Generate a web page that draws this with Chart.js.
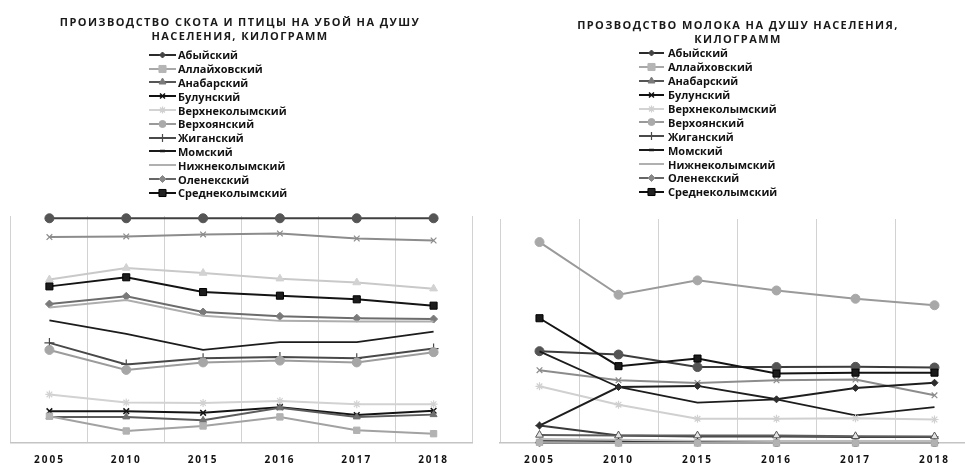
<!DOCTYPE html>
<html><head><meta charset="utf-8">
<script src="https://cdn.jsdelivr.net/npm/chart.js@4.4.1/dist/chart.umd.min.js"></script>
<style>
html,body{margin:0;padding:0;background:#fff;overflow:hidden;width:965px;height:463px;}
#wrap{position:relative;width:965px;height:463px;overflow:hidden;}
canvas.cv{position:absolute;top:0;}
.title{position:absolute;font-family:'Open Sans',sans-serif;font-weight:700;font-size:11px;letter-spacing:1.4px;text-align:center;color:#1a1a1a;line-height:14px;white-space:nowrap;}
.legend{position:absolute;font-family:'Open Sans',sans-serif;font-weight:700;font-size:11px;color:#111;}
.li{display:flex;align-items:center;white-space:nowrap;}
.li canvas{display:block;}
</style>
</head><body>
<div id="wrap">
  <canvas id="c1" class="cv" width="480" height="463" style="left:0"></canvas>
  <canvas id="c2" class="cv" width="500" height="463" style="left:480px"></canvas>
  <div class="title" id="t1" style="left:0;width:480px;top:15px;"></div>
  <div class="title" id="t2" style="left:488px;width:500px;top:18px;"></div>
  <div class="legend" id="lg1" style="left:149px;top:48px;"></div>
  <div class="legend" id="lg2" style="left:639px;top:46px;"></div>
</div>
<script>
// ---------- DATA ----------
const years = ['2005', '2010', '2015', '2016', '2017', '2018'];
const districts = ['Абыйский', 'Аллайховский', 'Анабарский', 'Булунский', 'Верхнеколымский',
  'Верхоянский', 'Жиганский', 'Момский', 'Нижнеколымский', 'Оленекский', 'Среднеколымский',
  'Усть-Янский', 'Эвено-Бытантайский'];
const legendCount = 11;
const titleMeat = ['ПРОИЗВОДСТВО СКОТА И ПТИЦЫ НА УБОЙ НА ДУШУ', 'НАСЕЛЕНИЯ, КИЛОГРАММ'];
const titleMilk = ['ПРОЗВОДСТВО МОЛОКА НА ДУШУ НАСЕЛЕНИЯ,', 'КИЛОГРАММ'];

// meat (left chart)
const meatAbyi      = [72.0, 77.1, 74.9, 72.4, 70.7, 68.0];
const meatAllaikh   = [11.8, 5.3, 7.5, 11.5, 5.6, 4.1];
const meatAnabar    = [11.5, 11.5, 10.0, 15.5, 11.5, 12.5];
const meatBulun     = [14.0, 14.0, 13.3, 15.8, 12.3, 14.2];
const meatVerkhnekol= [21.4, 17.8, 17.6, 18.5, 17.1, 17.1];
const meatVerkhoyan = [41.0, 32.2, 35.5, 36.3, 35.5, 40.0];
const meatZhigan    = [44.1, 34.6, 37.3, 37.9, 37.3, 41.6];
const meatMom       = [54.0, 48.1, 41.0, 44.4, 44.4, 49.1];
const meatNizhnekol = [59.7, 63.0, 56.1, 53.8, 53.5, 53.5];
const meatOlenek    = [61.2, 64.6, 57.7, 55.8, 55.0, 54.6];
const meatSrednekol = [69.0, 73.0, 66.5, 64.9, 63.3, 60.5];
const meatUstYan    = [99.0, 99.0, 99.0, 99.0, 99.0, 99.0];
const meatEveno     = [90.7, 91.0, 91.9, 92.3, 90.1, 89.2];

// milk (right chart)
const milkAbyi      = [7.8, 25.0, 25.5, 19.5, 24.6, 26.9];
const milkAllaikh   = [0.3, 0.0, 0.0, 0.0, 0.0, 0.0];
const milkAnabar    = [3.6, 3.3, 3.3, 3.3, 3.0, 2.9];
const milkBulun     = [0.2, 0.2, 0.2, 0.0, 0.0, 0.0];
const milkVerkhnekol= [25.3, 17.1, 10.8, 10.8, 11.1, 10.5];
const milkVerkhoyan = [89.7, 66.2, 72.6, 68.1, 64.4, 61.5];
const milkZhigan    = [7.8, 3.3, 2.9, 2.9, 2.7, 2.7];
const milkMom       = [40.9, 25.0, 18.0, 19.5, 12.3, 16.0];
const milkNizhnekol = [1.8, 1.5, 0.9, 0.9, 0.9, 0.9];
const milkOlenek    = [1.1, 0.9, 0.9, 0.2, 0.2, 0.2];
const milkSrednekol = [55.7, 34.3, 37.7, 31.0, 31.4, 31.4];
const milkUstYan    = [41.0, 39.5, 33.9, 33.9, 34.0, 33.7];
const milkEveno     = [32.5, 28.0, 26.8, 28.0, 28.3, 21.3];

const meatSeries = [meatAbyi, meatAllaikh, meatAnabar, meatBulun, meatVerkhnekol, meatVerkhoyan,
  meatZhigan, meatMom, meatNizhnekol, meatOlenek, meatSrednekol, meatUstYan, meatEveno];
const milkSeries = [milkAbyi, milkAllaikh, milkAnabar, milkBulun, milkVerkhnekol, milkVerkhoyan,
  milkZhigan, milkMom, milkNizhnekol, milkOlenek, milkSrednekol, milkUstYan, milkEveno];

// ---------- STYLES ----------
const leftStyles = [
  {line:'#c9c9c9', pt:'triangle', fill:'#d2d2d2', r:4.5},
  {line:'#a2a2a2', pt:'rect', fill:'#b2b2b2', r:4.5},
  {line:'#5c5c5c', pt:'triangle', fill:'#707070', r:4},
  {line:'#141414', pt:'crossRot', fill:'#141414', r:4, bw:1.5},
  {line:'#d2d2d2', pt:'star', fill:'#d2d2d2', r:4, bw:1.2},
  {line:'#9c9c9c', pt:'circle', fill:'#a6a6a6', r:4.5},
  {line:'#484848', pt:'cross', fill:'#484848', r:5, bw:1.2},
  {line:'#1c1c1c', r:0, w:1.8},
  {line:'#adadad', r:0},
  {line:'#6c6c6c', pt:'rectRot', fill:'#7a7a7a', r:4},
  {line:'#141414', pt:'rect', fill:'#1c1c1c', r:5, border:'#000'},
  {line:'#404040', pt:'circle', fill:'#555555', r:4.5},
  {line:'#8c8c8c', pt:'crossRot', fill:'#8c8c8c', r:4, bw:1.2}
];
const rightStyles = [
  {line:'#1e1e1e', pt:'rectRot', fill:'#2e2e2e', r:3.5},
  {line:'#a2a2a2', pt:'rect', fill:'#b2b2b2', r:4.5},
  {line:'#5c5c5c', pt:'triangle', fill:'#e4e4e4', border:'#555', r:4.5},
  {line:'#222222', pt:'circle', fill:'#ffffff', border:'#222', r:3.5},
  {line:'#d0d0d0', pt:'star', fill:'#d0d0d0', r:4, bw:1.2},
  {line:'#9a9a9a', pt:'circle', fill:'#a8a8a8', r:4.5},
  {line:'#3a3a3a', pt:'cross', fill:'#3a3a3a', r:4, bw:1.2},
  {line:'#1c1c1c', r:0, w:1.8},
  {line:'#bdbdbd', r:0},
  {line:'#4a4a4a', r:0},
  {line:'#141414', pt:'rect', fill:'#1c1c1c', r:5, border:'#000'},
  {line:'#3c3c3c', pt:'circle', fill:'#555555', r:4.5},
  {line:'#8c8c8c', pt:'crossRot', fill:'#8c8c8c', r:4, bw:1.2}
];
const legendStyles = [
  {line:'#2b2b2b', pt:'rectRot', fill:'#444', r:3},
  {line:'#a8a8a8', pt:'rect', fill:'#b5b5b5', r:5},
  {line:'#555555', pt:'triangle', fill:'#7a7a7a', r:4},
  {line:'#111111', pt:'crossRot', fill:'#111', r:3.5, bw:1.5},
  {line:'#d3d3d3', pt:'star', fill:'#d0d0d0', r:3.5, bw:1.2},
  {line:'#999999', pt:'circle', fill:'#aaa', r:3.5},
  {line:'#4a4a4a', pt:'cross', fill:'#4a4a4a', r:4, bw:1.2},
  {line:'#1a1a1a', pt:'line', fill:'#1a1a1a', r:2.5, bw:2.5},
  {line:'#b0b0b0', r:0},
  {line:'#666666', pt:'rectRot', fill:'#888', r:3.5},
  {line:'#111111', pt:'rect', fill:'#222', r:5, border:'#000'}
];

function makeSets(series, styles) {
  return series.map((d, i) => {
    const s = styles[i];
    return {
      label: districts[i],
      data: d,
      borderColor: s.line,
      backgroundColor: s.fill || s.line,
      borderWidth: s.w || 2,
      pointStyle: s.pt || 'circle',
      pointRadius: s.r,
      pointHoverRadius: s.r,
      pointBackgroundColor: s.fill || s.line,
      pointBorderColor: s.border || s.fill || s.line,
      pointBorderWidth: s.bw || 1,
      tension: 0,
      clip: false
    };
  });
}

const spacingPlugin = {
  id: 'spacing',
  beforeDraw(chart) { try { chart.ctx.letterSpacing = '2px'; } catch (e) {} }
};

function makeOptions(pad) {
  return {
    responsive: false,
    animation: false,
    events: [],
    layout: { padding: pad },
    plugins: { legend: { display: false }, tooltip: { enabled: false }, title: { display: false } },
    scales: {
      x: {
        offset: true,
        grid: { offset: true, color: '#d2d2d2', lineWidth: 1, drawTicks: false },
        border: { color: '#c4c4c4', width: 1.5 },
        ticks: { padding: 12, color: '#111', font: { family: 'Open Sans', weight: 'bold', size: 10, lineHeight: 1 } }
      },
      y: { display: false, min: 0, max: 100 }
    }
  };
}

new Chart(document.getElementById('c1'), {
  type: 'line',
  data: { labels: years, datasets: makeSets(meatSeries, leftStyles) },
  options: makeOptions({ top: 216, left: 11, right: 8, bottom: -14 }),
  plugins: [spacingPlugin]
});
new Chart(document.getElementById('c2'), {
  type: 'line',
  data: { labels: years, datasets: makeSets(milkSeries, rightStyles) },
  options: makeOptions({ top: 219, left: 20, right: 4, bottom: -14 }),
  plugins: [spacingPlugin]
});

// ---------- TITLES ----------
document.getElementById('t1').innerHTML = titleMeat.join('<br>');
document.getElementById('t2').innerHTML = titleMilk.join('<br>');

// ---------- LEGENDS ----------
function drawMarker(ctx, s, x, y) {
  if (!s.pt || !s.r) return;
  ctx.fillStyle = s.fill; ctx.strokeStyle = s.border || s.fill; ctx.lineWidth = s.bw || 1;
  if (Chart.helpers && Chart.helpers.drawPoint) {
    Chart.helpers.drawPoint(ctx, { pointStyle: s.pt, radius: s.r, borderWidth: s.bw || 1, rotation: 0 }, x, y);
  } else {
    ctx.beginPath(); ctx.arc(x, y, s.r, 0, Math.PI * 2); ctx.fill();
  }
}
function buildLegend(id, lw, gap, rowH) {
  const el = document.getElementById(id);
  for (let i = 0; i < legendCount; i++) {
    const s = legendStyles[i];
    const row = document.createElement('div');
    row.className = 'li'; row.style.height = rowH + 'px';
    const cv = document.createElement('canvas');
    cv.width = lw; cv.height = 12; cv.style.marginRight = gap + 'px';
    const ctx = cv.getContext('2d');
    ctx.strokeStyle = s.line; ctx.lineWidth = 2;
    ctx.beginPath(); ctx.moveTo(0, 6); ctx.lineTo(lw, 6); ctx.stroke();
    drawMarker(ctx, s, lw / 2, 6);
    const sp = document.createElement('span');
    sp.textContent = districts[i];
    row.appendChild(cv); row.appendChild(sp);
    el.appendChild(row);
  }
}
buildLegend('lg1', 27, 2, 13.8);
buildLegend('lg2', 25, 4, 13.9);
</script>
</body></html>
